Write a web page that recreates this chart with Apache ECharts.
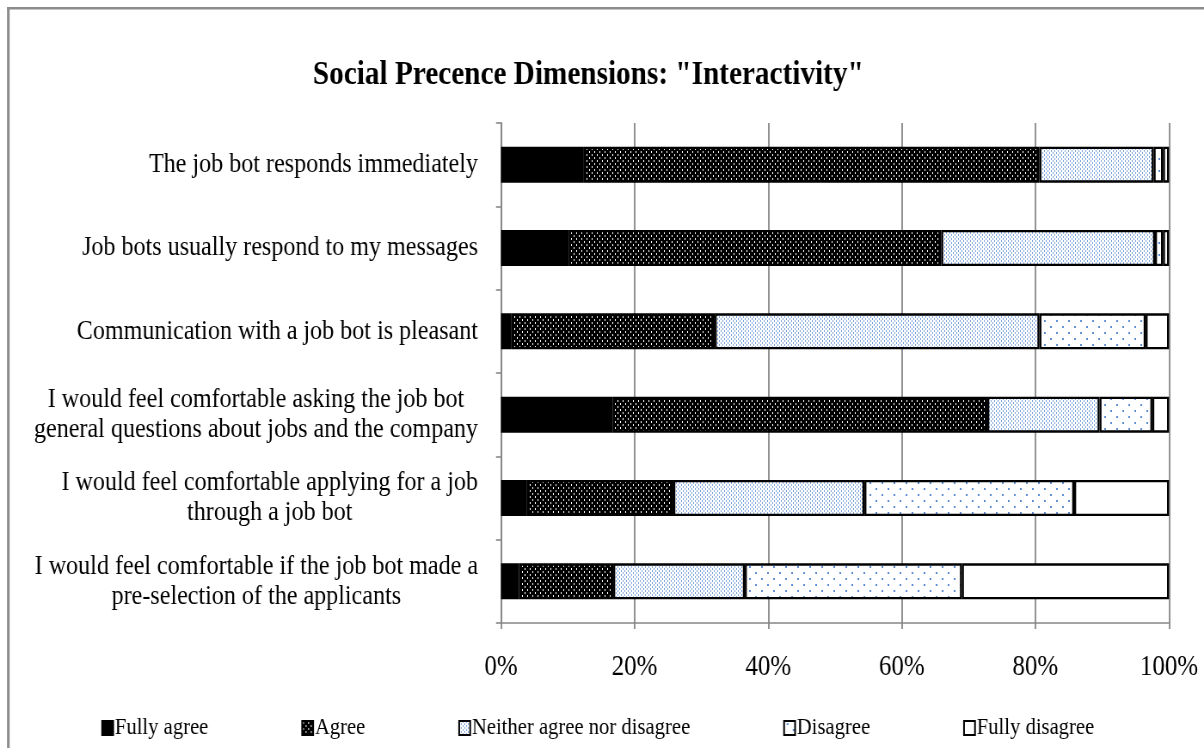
<!DOCTYPE html>
<html>
<head>
<meta charset="utf-8">
<script src="https://cdn.jsdelivr.net/npm/echarts@6/dist/echarts.min.js"></script>
<style>
  html, body { margin: 0; padding: 0; background: #fff; overflow: hidden; }
  /* the chart is laid out on a wider canvas and squeezed horizontally for a narrow serif look */
  #chart { width: 1400px; height: 748px; transform: scaleX(0.86); transform-origin: 0 0; }
</style>
</head>
<body>
<div id="chart"></div>
<script>
const S = 0.86;               // horizontal squeeze factor of the container
const X = v => v / S;         // convert on-screen x distance to layout units

const titleText = 'Social Precence Dimensions: "Interactivity"';
const statements = [
  'The job bot responds immediately',
  'Job bots usually respond to my messages',
  'Communication with a job bot is pleasant',
  'I would feel comfortable asking the job bot\ngeneral questions about jobs and the company',
  'I would feel comfortable applying for a job\nthrough a job bot',
  'I would feel comfortable if the job bot made a\npre-selection of the applicants'
];
const seriesNames = ['Fully agree', 'Agree', 'Neither agree nor disagree', 'Disagree', 'Fully disagree'];
const fullyAgree    = [12.4, 10.2,  1.5, 16.7,  3.9,  2.7];
const agree         = [68.2, 55.7, 30.5, 56.1, 21.9, 14.1];
const neither       = [17.1, 32.0, 48.6, 16.8, 28.6, 19.7];
const disagree      = [ 1.4,  1.2, 15.9,  7.9, 31.4, 32.5];
const fullyDisagree = [ 0.9,  0.9,  3.5,  2.5, 14.2, 31.0];
const xTicks = [0, 20, 40, 60, 80, 100];

const FONT = 'Liberation Serif';

// small tiled fills for the bar segments
function tile(w, h, bg, fg, dots) {
  const c = document.createElement('canvas');
  c.width = w; c.height = h;
  const g = c.getContext('2d');
  g.fillStyle = bg; g.fillRect(0, 0, w, h);
  g.fillStyle = fg;
  dots.forEach(d => g.fillRect(d[0], d[1], d[2], d[3]));
  return { image: c, repeat: 'repeat' };
}
const fills = [
  '#000000',
  tile(6, 6, '#000000', '#ffffff', [[1, 1, 1, 2], [4, 4, 1, 2]]),
  tile(4, 4, '#ffffff', '#7aa2dc', [[0, 0, 1, 2], [2, 2, 1, 2]]),
  tile(14, 12, '#ffffff', '#5b8bd3', [[3, 2, 2, 2], [10, 8, 2, 2]]),
  '#ffffff'
];
const values = [fullyAgree, agree, neither, disagree, fullyDisagree];

const chart = echarts.init(document.getElementById('chart'), null, { renderer: 'canvas' });

chart.setOption({
  animation: false,
  backgroundColor: '#ffffff',
  title: {
    text: titleText,
    left: X(584),
    textAlign: 'center',
    top: 53,
    textStyle: { fontFamily: FONT, fontSize: 34, fontWeight: 'bold', color: '#000' }
  },
  legend: {
    data: seriesNames,
    left: X(97),
    top: 711,
    itemGap: X(93),
    itemWidth: X(11),
    itemHeight: 14,
    icon: 'rect',
    textStyle: { fontFamily: FONT, fontSize: 24, color: '#000', padding: [0, 0, 0, -3] }
  },
  grid: { left: X(501), right: X(1204 - 1169), top: 123, bottom: 125, containLabel: false },
  xAxis: {
    type: 'value',
    min: 0, max: 100, interval: 20,
    axisLine: { show: true, lineStyle: { color: '#878787', width: 1.6 } },
    axisTick: { show: true, length: 6, lineStyle: { color: '#878787', width: 1.8 } },
    splitLine: { show: true, lineStyle: { color: '#878787', width: 1.8 } },
    axisLabel: {
      margin: 30,
      fontFamily: FONT, fontSize: 29, color: '#000',
      formatter: v => xTicks.includes(v) ? v + '%' : ''
    }
  },
  yAxis: {
    type: 'category',
    inverse: true,
    data: statements,
    axisLine: { show: true, lineStyle: { color: '#878787', width: 1.8 } },
    axisTick: { show: true, length: X(5), lineStyle: { color: '#878787', width: 1.6 } },
    axisLabel: {
      margin: X(23),
      align: 'right',
      fontFamily: FONT, fontSize: 28, color: '#000', lineHeight: 30,
      formatter: v => v.split('\n').map(l => '{c|' + l + '}').join('\n'),
      rich: { c: { align: 'center', fontFamily: FONT, fontSize: 28, lineHeight: 30, color: '#000' } }
    }
  },
  series: seriesNames.map((name, i) => ({
    name,
    type: 'bar',
    stack: 'total',
    barWidth: 36,
    data: values[i],
    itemStyle: { color: fills[i], borderColor: '#000', borderWidth: 2.3 },
    emphasis: { disabled: true }
  })),
  graphic: [
    { type: 'rect', silent: true, shape: { x: X(7), y: 7, width: X(2.6), height: 741 }, style: { fill: '#8c8c8c' } },
    { type: 'rect', silent: true, shape: { x: X(7), y: 7, width: X(1204), height: 2.6 }, style: { fill: '#8c8c8c' } }
  ]
});
</script>
</body>
</html>
